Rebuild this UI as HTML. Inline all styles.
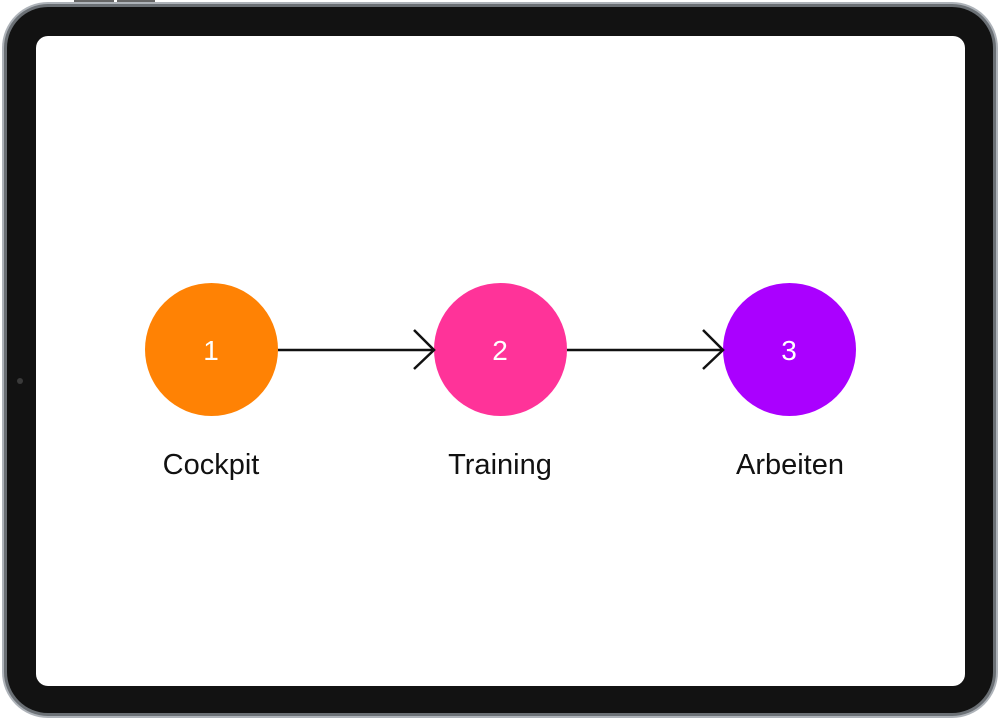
<!DOCTYPE html>
<html><head><meta charset="utf-8"><style>
html,body{margin:0;padding:0;background:#fff;width:1000px;height:721px;overflow:hidden}
</style></head><body>
<svg width="1000" height="721" viewBox="0 0 1000 721" xmlns="http://www.w3.org/2000/svg">
<rect x="0" y="0" width="1000" height="721" fill="#fff"/>
<rect x="74" y="0" width="40" height="3" fill="#666"/>
<rect x="117" y="0" width="38" height="3" fill="#666"/>
<rect x="2" y="2" width="996" height="716" rx="46" fill="#aeb3b9"/>
<rect x="4" y="4" width="992" height="712" rx="44" fill="#6b7075"/>
<rect x="7" y="7" width="986" height="706" rx="41" fill="#121212"/>
<rect x="36" y="36" width="929" height="650" rx="12" fill="#fff"/>
<circle cx="20" cy="381" r="3" fill="#3a3a3a"/>
<circle cx="211.5" cy="349.5" r="66.5" fill="#ff8204"/>
<circle cx="500.5" cy="349.5" r="66.5" fill="#ff3399"/>
<circle cx="789.5" cy="349.5" r="66.5" fill="#aa00ff"/>
<g stroke="#111" stroke-width="2.5" fill="none">
<line x1="278" y1="350" x2="433" y2="350"/>
<polyline points="414,330 434,350 414,369"/>
<line x1="567" y1="350" x2="722" y2="350"/>
<polyline points="703,330 723,350 703,369"/>
</g>
<g font-family="Liberation Sans, sans-serif" fill="#fff" font-size="28" text-anchor="middle">
<text x="211" y="360">1</text>
<text x="500" y="360">2</text>
<text x="789" y="360">3</text>
</g>
<g font-family="Liberation Sans, sans-serif" fill="#111" font-size="29" text-anchor="middle">
<text x="211" y="474">Cockpit</text>
<text x="500" y="474">Training</text>
<text x="790" y="474">Arbeiten</text>
</g>
</svg>
</body></html>
